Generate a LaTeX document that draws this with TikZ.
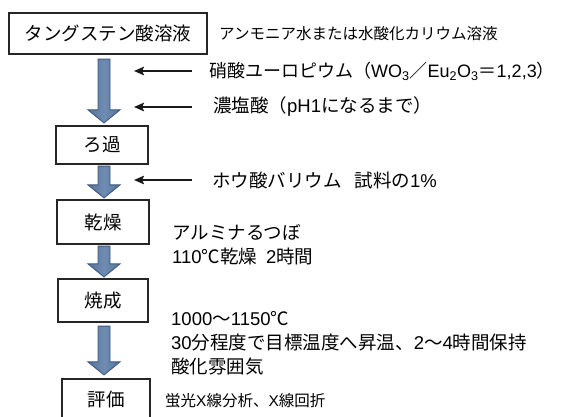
\documentclass[tikz,border=0pt]{standalone}
\usepackage{fontspec}
\setmainfont{Noto Sans CJK JP}
\newfontfamily\lat{Liberation Sans}
\usetikzlibrary{arrows.meta,calc}
\definecolor{arrfill}{RGB}{84,115,156}
\definecolor{arrlight}{RGB}{112,140,178}
\definecolor{arredge}{RGB}{60,88,126}
\tikzset{
  box/.style={draw=black!85, line width=2.2pt, inner sep=0pt, fill=white,
    font=\fontsize{18.5}{22}\selectfont},
  side/.style={anchor=west, inner sep=0pt, align=left,
    font=\fontsize{18.5}{24}\selectfont},
  small/.style={anchor=west, inner sep=0pt, font=\fontsize{15.5}{18}\selectfont},
  feed/.style={draw=black!90, line width=2pt, -{Stealth[length=10pt,width=8.5pt,inset=2pt]}},
  bigarrow/.style={left color=arrfill, right color=arrfill, middle color=arrlight,
    draw=arredge, line width=0.9pt},
}
\newcommand\flowarrow[2]{%
  \path[bigarrow] let \p1=(#1), \p2=(#2) in
    (\x1-6pt,\y1) -- (\x1+6pt,\y1) -- (\x1+6pt,\y2+13pt) -- (\x1+16pt,\y2+13pt)
    -- (\x1,\y2) -- (\x1-16pt,\y2+13pt) -- (\x1-6pt,\y2+13pt) -- cycle;}
\begin{document}
\begin{tikzpicture}[x=1pt,y=-1pt]
\useasboundingbox (0,0) rectangle (562,417);
\fill[white] (0,0) rectangle (562,417);
\clip (0,0) rectangle (562,417);

% process boxes
\node[box, minimum width=198pt, minimum height=41pt] (b1) at (108,33.5) {タングステン酸溶液};
\node[box, minimum width=92pt, minimum height=38pt] (b2) at (102,145) {ろ過};
\node[box, minimum width=92pt, minimum height=44pt] (b3) at (103,222) {乾燥};
\node[box, minimum width=90pt, minimum height=43pt] (b4) at (103,300.5) {焼成};
\node[box, minimum width=88pt, minimum height=40pt] (b5) at (106,399) {評価};

% flow arrows
\coordinate (ax) at (104,0);
\flowarrow{$(b1.south -| ax)+(0,4)$}{$(b2.north -| ax)+(0,-2)$}
\flowarrow{$(b2.south -| ax)+(0,1)$}{$(b3.north -| ax)+(0,-1)$}
\flowarrow{$(b3.south -| ax)+(0,1)$}{$(b4.north -| ax)+(0,-1)$}
\flowarrow{$(b4.south -| ax)+(0,3)$}{$(b5.north -| ax)+(0,-3)$}

% side texts
\node[small] (t1) at (219,34) {アンモニア水または水酸化カリウム溶液};
\node[side, font=\fontsize{18}{22}\selectfont] (t2) at (209,71) {硝酸ユーロピウム（{\lat WO\textsubscript{3}}／{\lat Eu\textsubscript{2}O\textsubscript{3}}＝{\lat 1,2,3}）};
\node[side] (t3) at (213,107) {濃塩酸（{\lat pH1}になるまで）};
\node[side] (t4) at (212,180) {ホウ酸バリウム\hspace{13pt}試料の{\lat 1\%}};
\node[side] (t5) at (172,245) {アルミナるつぼ\\{\lat 110}℃乾燥\hspace{9pt}{\lat 2}時間};
\node[side] (t6) at (171,343) {{\lat 1000}～{\lat 1150}℃\\{\lat 30}分程度で目標温度へ昇温、{\lat 2}～{\lat 4}時間保持\\酸化雰囲気};
\node[small] (t7) at (165,401) {蛍光{\lat X}線分析、{\lat X}線回折};

% feed arrows
\coordinate (g1) at (192,71);  \coordinate (f1) at (134,71);
\coordinate (g2) at (192,107); \coordinate (f2) at (134,107);
\coordinate (g3) at (192,180); \coordinate (f3) at (134,180);
\draw[feed] (g1) -- (f1);
\draw[feed] (g2) -- (f2);
\draw[feed] (g3) -- (f3);
\end{tikzpicture}
\end{document}
